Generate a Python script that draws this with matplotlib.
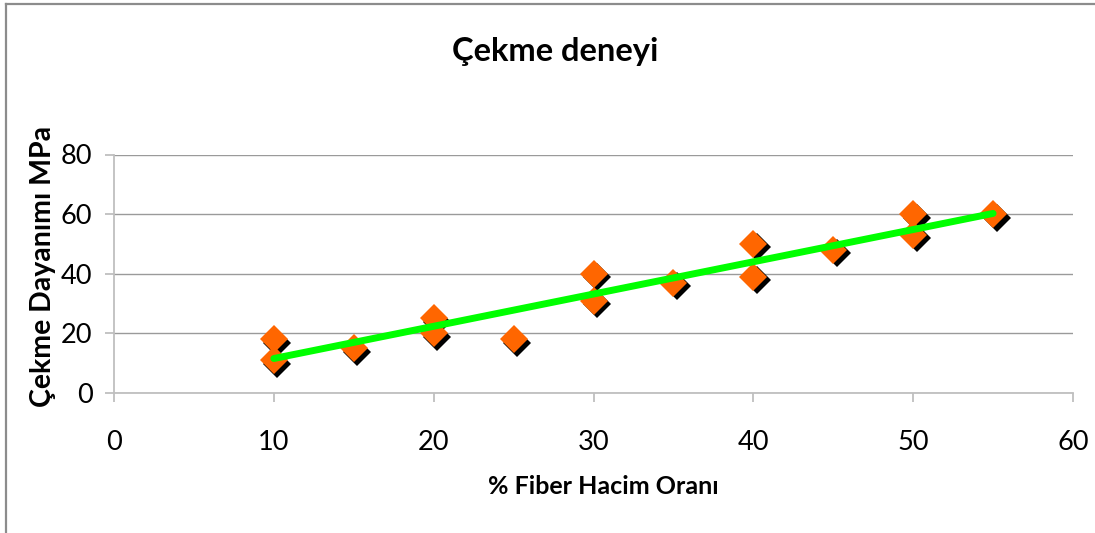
import numpy as np
import matplotlib
matplotlib.use("Agg")
import matplotlib.pyplot as plt
from matplotlib.transforms import offset_copy
from matplotlib.lines import Line2D

plt.rcParams['font.family'] = ['Lato', 'DejaVu Sans']

# Tensile test results: fibre volume fraction (%) vs tensile strength (MPa)
fiber_pct = [10, 10, 15, 20, 20, 25, 30, 30, 35, 40, 40, 45, 50, 50, 55]
strength_mpa = [18, 11, 15, 25, 20, 18, 40, 31, 37, 50, 39, 48, 60, 53, 60]

x_ticks = [0, 10, 20, 30, 40, 50, 60]
y_ticks = [0, 20, 40, 60, 80]

title_text = "Çekme deneyi"
x_label = "% Fiber Hacim Oranı"
y_label = "Çekme Dayanımı MPa"

W, H, DPI = 1095, 533, 100
fig = plt.figure(figsize=(W / DPI, H / DPI), dpi=DPI)
fig.patch.set_facecolor("white")

# outer chart-area border (left and top edges visible)
fig.add_artist(Line2D([6 / W, 6 / W], [0, 1 - 4 / H], color="#8c8c8c", lw=1.6,
                      transform=fig.transFigure))
fig.add_artist(Line2D([6 / W, 1], [1 - 4 / H, 1 - 4 / H], color="#8c8c8c", lw=1.6,
                      transform=fig.transFigure))

left, right = 114 / W, 1073 / W
bottom, top = (H - 393) / H, (H - 154.5) / H
ax = fig.add_axes([left, bottom, right - left, top - bottom])

ax.set_xlim(0, 60)
ax.set_ylim(0, 80)
ax.set_xticks(x_ticks)
ax.set_yticks(y_ticks)
ax.set_xticklabels([str(v) for v in x_ticks])
ax.set_yticklabels([str(v) for v in y_ticks])

for s in ("top", "right"):
    ax.spines[s].set_visible(False)
for s in ("left", "bottom"):
    ax.spines[s].set_color("#bfbfbf")
    ax.spines[s].set_linewidth(1.3)

ax.yaxis.grid(True, color="#9a9a9a", lw=1.0)
ax.set_axisbelow(True)
ax.tick_params(axis="both", direction="out", length=6.5, width=1.3, color="#bfbfbf",
               labelsize=19.5, labelcolor="black")
ax.tick_params(axis="x", pad=20)
ax.tick_params(axis="y", pad=9)

# scatter with drop shadow
shadow_tr = offset_copy(ax.transData, fig=fig, x=3.5, y=-3.5, units="dots")
ax.plot(fiber_pct, strength_mpa, linestyle="none", marker="D", markersize=14.5,
        color="black", markeredgewidth=0, transform=shadow_tr, zorder=3)
ax.plot(fiber_pct, strength_mpa, linestyle="none", marker="D", markersize=14.5,
        color="#ff6600", markeredgewidth=0, zorder=4)

# linear trend line over the measured range
slope, intercept = np.polyfit(fiber_pct, strength_mpa, 1)
xs = np.array([min(fiber_pct), max(fiber_pct)])
ax.plot(xs, slope * xs + intercept, color="#00ff00", lw=5,
        solid_capstyle="round", zorder=5)

fig.text(555 / W, 1 - 52 / H, title_text, ha="center", va="center",
         fontsize=23.5, fontweight="bold")
fig.text(603 / W, 1 - 487 / H, x_label, ha="center", va="center",
         fontsize=18, fontweight="bold")
fig.text(43 / W, 1 - 266 / H, y_label, ha="center", va="center", rotation=90,
         fontsize=20.5, fontweight="bold")

fig.savefig("out.png", dpi=DPI, facecolor="white")
